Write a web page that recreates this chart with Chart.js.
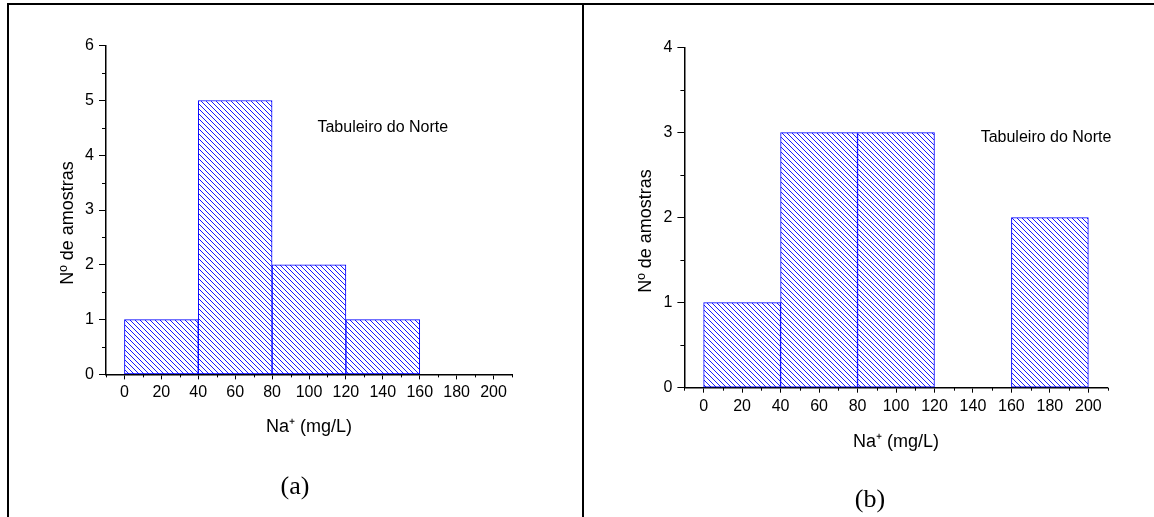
<!DOCTYPE html>
<html>
<head>
<meta charset="utf-8">
<script src="https://cdn.jsdelivr.net/npm/chart.js@4.4.1/dist/chart.umd.min.js"></script>
<style>
  body { margin: 0; background: #fff; }
  #wrap { position: relative; width: 1154px; height: 517px; overflow: hidden; }
  canvas { position: absolute; top: 0; }
  #chartA { left: 0; }
  #chartB { left: 584px; }
  .rule { position: absolute; background: #000; }
</style>
</head>
<body>
<div id="wrap">
  <canvas id="chartA" width="580" height="517"></canvas>
  <canvas id="chartB" width="570" height="517"></canvas>
  <div class="rule" style="left:7px;top:3px;width:1147px;height:2px"></div>
  <div class="rule" style="left:7px;top:3px;width:2px;height:514px"></div>
  <div class="rule" style="left:582px;top:3px;width:2px;height:514px"></div>
</div>
<script>
const binCenters = [20, 60, 100, 140, 180];
const countsA = [1, 5, 2, 1, 0];
const countsB = [1, 3, 3, 0, 2];
const xTickLabels = [0, 20, 40, 60, 80, 100, 120, 140, 160, 180, 200];
const yMaxA = 6;
const yMaxB = 4;
const xTitle = "Na\u207A (mg/L)";
const yTitle = "N\u00BA de amostras";
const siteName = "Tabuleiro do Norte";

const sans = "'Liberation Sans', Arial, sans-serif";

// blue "\\\" hatch used by the bars
function hatch(ctx) {
  const n = 5;
  const c = document.createElement("canvas");
  c.width = n;
  c.height = n;
  const g = c.getContext("2d");
  g.fillStyle = "#fff";
  g.fillRect(0, 0, n, n);
  g.fillStyle = "#1a1aff";
  for (let i = 0; i < n; i++) g.fillRect(i, i, 1, 1);
  return ctx.createPattern(c, "repeat");
}

const minorTicks = {
  id: "minorTicks",
  afterDraw(chart) {
    const { ctx, scales: { x, y } } = chart;
    ctx.save();
    ctx.strokeStyle = "#000";
    ctx.lineWidth = 1;
    ctx.beginPath();
    y.ticks.forEach(t => {
      if (Number.isInteger(t.value)) return;
      const py = Math.round(y.getPixelForValue(t.value)) + 0.5;
      ctx.moveTo(y.right - 4, py);
      ctx.lineTo(y.right, py);
    });
    x.ticks.forEach(t => {
      if (t.value % 20 === 0) return;
      const px = Math.round(x.getPixelForValue(t.value)) + 0.5;
      ctx.moveTo(px, x.top);
      ctx.lineTo(px, x.top + 3);
    });
    ctx.stroke();
    ctx.restore();
  }
};

const panelText = {
  id: "panelText",
  afterDraw(chart, args, opts) {
    const { ctx, scales: { x, y } } = chart;
    ctx.save();
    ctx.fillStyle = "#000";
    ctx.textAlign = "center";
    ctx.textBaseline = "middle";
    ctx.font = "16px " + sans;
    ctx.fillText(siteName, x.getPixelForValue(opts.noteAt[0]), y.getPixelForValue(opts.noteAt[1]));
    ctx.font = "26px 'Liberation Serif', 'Times New Roman', serif";
    ctx.fillText(opts.tag, opts.tagPos[0], opts.tagPos[1]);
    ctx.translate(opts.titlePos[0], opts.titlePos[1]);
    ctx.rotate(-Math.PI / 2);
    ctx.font = "18px " + sans;
    ctx.fillText(yTitle, 0, 0);
    ctx.restore();
  }
};

function makeChart(id, counts, yMax, L) {
  const ctx = document.getElementById(id).getContext("2d");
  return new Chart(ctx, {
    type: "bar",
    data: {
      datasets: [{
        data: binCenters.map((c, i) => ({ x: c, y: counts[i] || null })),
        backgroundColor: hatch(ctx),
        borderColor: "#0000ff",
        borderWidth: 1,
        borderSkipped: false,
        barThickness: "flex",
        barPercentage: 1,
        categoryPercentage: 1,
      }],
    },
    options: {
      responsive: false,
      animation: false,
      devicePixelRatio: 1,
      layout: { padding: L.padding },
      plugins: {
        legend: { display: false },
        tooltip: { enabled: false },
        panelText: { noteAt: L.noteAt, tag: L.tag, tagPos: L.tagPos, titlePos: L.titlePos },
      },
      scales: {
        x: {
          type: "linear",
          min: -10,
          max: 210,
          offset: false,
          z: 1,
          afterFit: s => { s.height = 70; },
          grid: {
            offset: false,
            drawOnChartArea: false,
            tickLength: 5,
            tickColor: c => (c.tick && c.tick.value % 20 === 0 ? "#000" : "rgba(0,0,0,0)"),
          },
          border: { color: "#000", width: 1.5 },
          ticks: {
            stepSize: 10,
            autoSkip: false,
            maxRotation: 0,
            padding: 4,
            color: "#000",
            font: { family: sans, size: 16 },
            callback: v => (xTickLabels.includes(v) ? String(v) : ""),
          },
          title: {
            display: true,
            text: xTitle,
            color: "#000",
            font: { family: sans, size: 18 },
            padding: { top: 0, bottom: L.xTitlePad },
          },
        },
        y: {
          min: 0,
          max: yMax,
          z: 1,
          afterFit: s => { s.width = 56; },
          grid: {
            drawOnChartArea: false,
            tickLength: 7,
            tickColor: c => (c.tick && Number.isInteger(c.tick.value) ? "#000" : "rgba(0,0,0,0)"),
          },
          border: { color: "#000", width: 1.5 },
          ticks: {
            stepSize: 0.5,
            autoSkip: false,
            padding: 5,
            color: "#000",
            font: { family: sans, size: 16 },
            callback: v => (Number.isInteger(v) ? String(v) : ""),
          },
        },
      },
    },
    plugins: [minorTicks, panelText],
  });
}

makeChart("chartA", countsA, yMaxA, {
  padding: { left: 50, right: 68, top: 45.7, bottom: 72.6 },
  xTitlePad: 6.6,
  noteAt: [140, 4.5],
  tag: "(a)",
  tagPos: [295, 487],
  titlePos: [68.4, 223],
});

makeChart("chartB", countsB, yMaxB, {
  padding: { left: 44.4, right: 46.4, top: 47.7, bottom: 59.3 },
  xTitlePad: 5.2,
  noteAt: [178, 2.94],
  tag: "(b)",
  tagPos: [286, 500],
  titlePos: [62.3, 231],
});
</script>
</body>
</html>
